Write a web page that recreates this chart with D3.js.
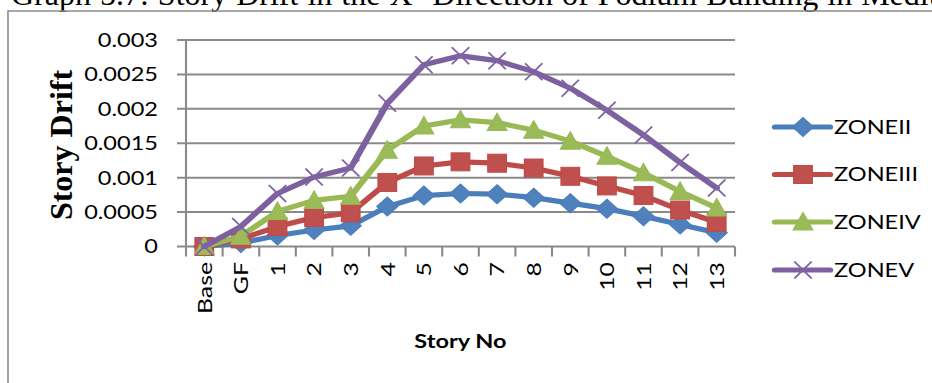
<!DOCTYPE html>
<html>
<head>
<meta charset="utf-8">
<script src="https://cdn.jsdelivr.net/npm/d3@7"></script>
<style>
  html, body { margin: 0; padding: 0; background: #fff; }
  svg { display: block; }
</style>
</head>
<body>
<svg id="chart" width="932" height="383"></svg>
<script>
// Story drift per floor, X direction, for four seismic zones
const categories = ["Base", "GF", "1", "2", "3", "4", "5", "6", "7", "8", "9", "10", "11", "12", "13"];
const zoneII  = [0, 0.00005, 0.00016, 0.00024, 0.00030, 0.00058, 0.00074, 0.00077, 0.00076, 0.00071, 0.00063, 0.00055, 0.00044, 0.00032, 0.00020];
const zoneIII = [0, 0.00011, 0.00029, 0.00042, 0.00049, 0.00093, 0.00117, 0.00123, 0.00121, 0.00114, 0.00102, 0.00088, 0.00074, 0.00053, 0.00035];
const zoneIV  = [0, 0.00015, 0.00051, 0.00067, 0.00073, 0.00140, 0.00175, 0.00184, 0.00180, 0.00169, 0.00153, 0.00131, 0.00107, 0.00080, 0.00056];
const zoneV   = [0, 0.00029, 0.00077, 0.00101, 0.00114, 0.00208, 0.00264, 0.00277, 0.00270, 0.00254, 0.00230, 0.00198, 0.00162, 0.00122, 0.00085];
const seriesNames = ["ZONEII", "ZONEIII", "ZONEIV", "ZONEV"];
const yTicks = [0, 0.0005, 0.001, 0.0015, 0.002, 0.0025, 0.003];
const yTickLabels = ["0", "0.0005", "0.001", "0.0015", "0.002", "0.0025", "0.003"];

const series = [
  { name: seriesNames[0], values: zoneII,  line: "#4a7ebb", fill: "#4f81bd", marker: "diamond" },
  { name: seriesNames[1], values: zoneIII, line: "#be4b48", fill: "#c0504d", marker: "square" },
  { name: seriesNames[2], values: zoneIV,  line: "#98b954", fill: "#9bbb59", marker: "triangle" },
  { name: seriesNames[3], values: zoneV,   line: "#7d60a0", fill: "#8064a2", marker: "cross" }
];

const svg = d3.select("#chart");
const FONT = "Lato, 'Open Sans', sans-serif";
const FS = 19;
const GRID = "#8a8a8a";

// Caption above the chart (runs off the top edge)
svg.append("text")
  .attr("x", 11).attr("y", 4.5)
  .attr("font-family", "'Liberation Serif', 'Times New Roman', serif")
  .attr("font-size", 32)
  .attr("word-spacing", 1)
  .attr("fill", "#000")
  .text("Graph 5.7: Story Drift in the X- Direction of Podium Building in Medium");

// Chart frame: left and top edges
svg.append("path")
  .attr("d", "M8,383 L8,11 L932,11")
  .attr("fill", "none").attr("stroke", "#8c8c8c").attr("stroke-width", 1.6);

// Vertical axis title
svg.append("text")
  .attr("transform", "translate(72,145) rotate(-90)")
  .attr("text-anchor", "middle")
  .attr("font-family", "'Liberation Serif', 'Times New Roman', serif")
  .attr("font-weight", "bold")
  .attr("font-size", 32)
  .attr("fill", "#000")
  .text("Story Drift");

// Chart body is laid out with a horizontal stretch
const SX = 1.24;
const g = svg.append("g").attr("transform", `scale(${SX},1)`);

const x = d3.scaleBand().domain(categories).range([186 / SX, 735 / SX]).paddingInner(0).paddingOuter(0);
const y = d3.scaleLinear().domain([0, 0.003]).range([246.5, 40]);
const cx = c => x(c) + x.bandwidth() / 2;

// Horizontal gridlines with left tick stubs
g.append("g").selectAll("line").data(yTicks).join("line")
  .attr("x1", 177 / SX).attr("x2", x.range()[1])
  .attr("y1", d => y(d)).attr("y2", d => y(d))
  .attr("stroke", GRID).attr("stroke-width", 2);

// Vertical axis line
g.append("line")
  .attr("x1", x.range()[0]).attr("x2", x.range()[0])
  .attr("y1", y(0.003)).attr("y2", y(0))
  .attr("stroke", GRID).attr("stroke-width", 1.7);

// Y tick labels
g.append("g").selectAll("text").data(yTicks).join("text")
  .attr("x", 158 / SX).attr("y", d => y(d)).attr("dy", "0.36em")
  .attr("text-anchor", "end")
  .attr("font-family", FONT).attr("font-size", FS).attr("fill", "#000")
  .text((d, i) => yTickLabels[i]);

// X tick marks at category boundaries
const bounds = categories.map(c => x(c)).concat([x.range()[1]]);
g.append("g").selectAll("line").data(bounds).join("line")
  .attr("x1", d => d).attr("x2", d => d)
  .attr("y1", y(0)).attr("y2", y(0) + 10)
  .attr("stroke", GRID).attr("stroke-width", 1.7);

// X tick labels, rotated; the wide letterform is kept along the reading direction
g.append("g").selectAll("text").data(categories).join("text")
  .attr("transform", d => `translate(${cx(d)},262) scale(${1 / SX},1) rotate(-90) scale(${SX},1)`)
  .attr("dy", "0.36em")
  .attr("text-anchor", "end")
  .attr("font-family", FONT).attr("font-size", FS + 1).attr("fill", "#000")
  .text(d => d);

// X axis title
g.append("text")
  .attr("x", (x.range()[0] + x.range()[1]) / 2).attr("y", 348)
  .attr("text-anchor", "middle")
  .attr("font-family", FONT).attr("font-weight", "bold").attr("font-size", FS)
  .attr("fill", "#000")
  .text("Story No");

// Marker drawing
function drawMarker(sel, s) {
  if (s.marker === "diamond") {
    sel.append("path").attr("d", "M0,-9.5 L8.5,0 L0,9.5 L-8.5,0 Z")
      .attr("fill", s.fill).attr("stroke", s.line).attr("stroke-width", 1);
  } else if (s.marker === "square") {
    sel.append("rect").attr("x", -7.5).attr("y", -9).attr("width", 15).attr("height", 18)
      .attr("fill", s.fill).attr("stroke", s.line).attr("stroke-width", 1);
  } else if (s.marker === "triangle") {
    sel.append("path").attr("d", "M0,-9.5 L8,8 L-8,8 Z")
      .attr("fill", s.fill).attr("stroke", s.line).attr("stroke-width", 1);
  } else {
    sel.append("path").attr("d", "M-7,-8.5 L7,8.5 M-7,8.5 L7,-8.5")
      .attr("fill", "none").attr("stroke", s.fill).attr("stroke-width", 1.6);
  }
}

const lineGen = d3.line().x((d, i) => cx(categories[i])).y(d => y(d));

series.forEach(s => {
  const sg = g.append("g");
  sg.append("path").datum(s.values)
    .attr("d", lineGen)
    .attr("fill", "none").attr("stroke", s.line)
    .attr("stroke-width", 5.2).attr("stroke-linejoin", "round").attr("stroke-linecap", "round");
  s.values.forEach((v, i) => {
    const m = sg.append("g").attr("transform", `translate(${cx(categories[i])},${y(v)})`);
    drawMarker(m, s);
  });
});

// Legend
const legendY = [127, 174.5, 222, 270];
series.forEach((s, i) => {
  const lg = g.append("g").attr("transform", `translate(0,${legendY[i]})`);
  lg.append("line")
    .attr("x1", 775 / SX).attr("x2", 830 / SX).attr("y1", 0).attr("y2", 0)
    .attr("stroke", s.line).attr("stroke-width", 5.2).attr("stroke-linecap", "round");
  const m = lg.append("g").attr("transform", `translate(${803 / SX},0)`);
  drawMarker(m, s);
  lg.append("text")
    .attr("x", 834 / SX).attr("y", 0).attr("dy", "0.36em")
    .attr("font-family", FONT).attr("font-size", FS).attr("fill", "#000")
    .text(s.name);
});
</script>
</body>
</html>
